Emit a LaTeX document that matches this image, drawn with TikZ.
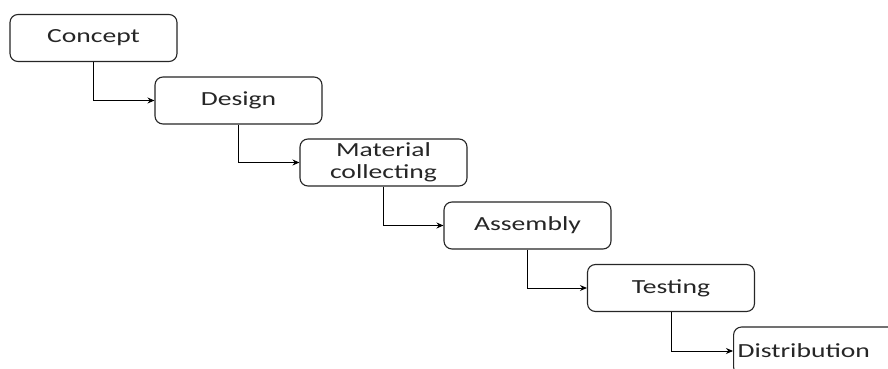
\documentclass[tikz,border=0pt]{standalone}
\usepackage{fontspec}
\setmainfont{Carlito}[FakeStretch=1.38]
\usetikzlibrary{arrows.meta}
\begin{document}
\begin{tikzpicture}[x=1pt,y=1pt,
  stagebox/.style={draw=black!85, line width=1.1pt, rounded corners=8pt,
    fill=white, minimum width=167pt, minimum height=47pt, inner sep=2pt,
    align=center, font=\fontsize{20}{22}\selectfont, text=black!85},
  flow/.style={draw=black, line width=0.9pt,
    -{Stealth[length=7pt,width=6pt]}}]
  \useasboundingbox (0,0) rectangle (888,369);
  \clip (0,0) rectangle (888,369);
  % process stages, stepping down to the right
  \node[stagebox] (concept)  at (93.5,331)  {Concept};
  \node[stagebox] (design)   at (238.5,268.5) {Design};
  \node[stagebox] (material) at (383.5,206.5) {Material\\collecting};
  \node[stagebox] (assembly) at (527.5,143.5) {Assembly};
  \node[stagebox] (testing)  at (671,81)   {Testing};
  \node[stagebox, anchor=west, text width=200pt, inner xsep=4pt, align=left,
        minimum height=48pt] (distrib) at (733,18) {Distribution};
  % connectors between consecutive stages
  \draw[flow] (concept.south)  |- (design.west);
  \draw[flow] (design.south)   |- (material.west);
  \draw[flow] (material.south) |- (assembly.west);
  \draw[flow] (assembly.south) |- (testing.west);
  \draw[flow] (testing.south)  |- (distrib.west);
\end{tikzpicture}
\end{document}
